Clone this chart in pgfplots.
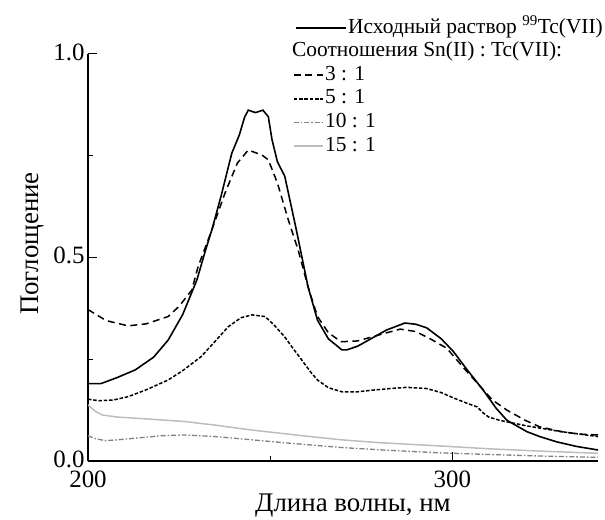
\documentclass[border=0pt]{standalone}
\usepackage{fontspec}
\setmainfont{Liberation Serif}
\usepackage{pgfplots}
\pgfplotsset{compat=1.18}
\definecolor{dd}{HTML}{808080}
\definecolor{lg}{HTML}{BDBDBD}
\pgfplotsset{
  shortimg/.style={legend image code/.code={\draw[##1] (0bp,0bp) -- (29bp,0bp);}},
  longimg/.style={legend image code/.code={\draw[##1] (2bp,0bp) -- (29bp,0bp); \draw[##1,overlay] (29bp,0bp) -- (52bp,0bp);}},
}
\begin{document}
\begin{tikzpicture}
\begin{axis}[
  at={(0,0)}, anchor=south west,
  scale only axis, width=510bp, height=407bp,
  xmin=200, xmax=340, ymin=0, ymax=1.0,
  axis x line=bottom, axis y line=left,
  axis line style={-, line width=1.2bp},
  tick align=inside,
  major tick length=9bp, minor tick length=5bp,
  tick style={line width=1bp, black},
  xtick={200,300}, minor xtick={250},
  ytick={0,0.5,1}, minor ytick={0.25,0.75},
  yticklabel style={yshift=2bp, /pgf/number format/.cd, fixed, fixed zerofill, precision=1},
  /pgf/number format/assume math mode=true,
  ticklabel style={font=\fontsize{25}{29}\selectfont},
  xticklabel style={yshift=-6bp},
  xlabel={Длина волны, нм}, ylabel={Поглощение},
  label style={font=\fontsize{27}{31}\selectfont},
  xlabel style={yshift=0bp, xshift=10bp},
  ylabel style={yshift=2bp, xshift=14bp},
  legend cell align=left,
  legend style={at={(0.396,1.095)}, anchor=north west, draw=none, fill=none,
    font=\fontsize{21.5}{25}\selectfont, row sep=2.6bp,
    nodes={inner sep=1.5bp, text height=14bp, text depth=4bp}},
]
\addlegendimage{black, line width=1.6bp, longimg}
\addlegendentry{\hspace*{23bp}Исходный раствор \textsuperscript{99}Tc(VII)}
\addlegendimage{empty legend}
\addlegendentry{\hspace*{-33bp}Соотношения Sn(II) : Tc(VII):}
\addlegendimage{black, line width=1.5bp, dash pattern=on 7bp off 4.5bp, shortimg}
\addlegendentry{3 : 1}
\addlegendimage{black, line width=1.5bp, dash pattern=on 3.5bp off 1.8bp, shortimg}
\addlegendentry{5 : 1}
\addlegendimage{dd, line width=1.3bp, dash pattern=on 5bp off 2bp on 1.5bp off 2bp, shortimg}
\addlegendentry{10 : 1}
\addlegendimage{lg, line width=1.5bp, shortimg}
\addlegendentry{15 : 1}

% 15:1
\addplot[lg, line width=1.5bp, forget plot] coordinates {
(200,0.138) (202,0.122) (204,0.113) (208,0.108) (215,0.104) (220,0.101) (226.6,0.097) (235,0.088) (245,0.076) (255,0.066) (262,0.059) (269.7,0.052) (280,0.045) (296.7,0.037) (310,0.030) (325,0.024) (340,0.019)};
% 10:1
\addplot[dd, line width=1.3bp, dash pattern=on 5bp off 2bp on 1.5bp off 2bp, forget plot] coordinates {
(200,0.062) (202,0.055) (204.7,0.050) (208,0.052) (213,0.056) (220,0.062) (226.6,0.064) (235,0.060) (245,0.052) (255,0.044) (269.7,0.033) (283,0.026) (296.7,0.020) (310,0.016) (325,0.012) (340,0.009)};
% 5:1
\addplot[black, line width=1.5bp, dash pattern=on 3.5bp off 1.8bp, forget plot] coordinates {
(200,0.152) (203,0.148) (207,0.150) (211,0.158) (216,0.175) (222,0.199) (226,0.222) (231,0.256) (235,0.295) (238.5,0.330) (242,0.352) (245,0.359) (248.6,0.355) (251,0.335) (254,0.305) (256,0.280) (258.7,0.248) (261,0.220) (263,0.199) (266,0.180) (269.7,0.170) (274,0.170) (278,0.174) (283,0.178) (287.5,0.181) (293,0.178) (297,0.168) (300.3,0.155) (304,0.142) (306.8,0.133) (308.5,0.118) (310,0.108) (313,0.100) (316.8,0.093) (320,0.087) (324,0.081) (330,0.072) (335,0.066) (340,0.060)};
% 3:1
\addplot[black, line width=1.5bp, dash pattern=on 7bp off 4.5bp, forget plot] coordinates {
(200,0.372) (205,0.345) (211,0.332) (216,0.337) (222,0.355) (225,0.380) (228.5,0.420) (230.2,0.477) (234,0.568) (237.6,0.658) (241,0.732) (244,0.764) (247.7,0.752) (249.5,0.740) (252,0.683) (255,0.592) (257.7,0.518) (260.4,0.428) (263,0.355) (266,0.315) (269.5,0.293) (274,0.295) (278,0.305) (282,0.315) (285.7,0.324) (290,0.318) (294,0.300) (298.5,0.277) (303,0.230) (307.7,0.183) (311,0.150) (315,0.125) (320,0.100) (324,0.084) (330,0.072) (335,0.066) (340,0.064)};
% original
\addplot[black, line width=1.6bp, forget plot] coordinates {
(200,0.190) (203.5,0.190) (208,0.205) (213,0.224) (218,0.255) (222,0.297) (226,0.360) (229.9,0.445) (232,0.510) (234,0.568) (236.5,0.650) (239.5,0.757) (241.5,0.800) (243,0.845) (244,0.862) (246,0.856) (248,0.862) (249.5,0.846) (250.5,0.790) (252,0.735) (254,0.700) (257,0.576) (260.4,0.428) (263,0.346) (266,0.300) (269.7,0.273) (271,0.273) (274,0.282) (278,0.302) (282,0.322) (287,0.339) (290,0.336) (293,0.327) (297,0.300) (300.3,0.269) (304,0.225) (308.5,0.174) (312,0.130) (315,0.100) (320.5,0.072) (324,0.060) (328.7,0.047) (334,0.036) (340,0.027)};
\end{axis}
\pgfresetboundingbox
\useasboundingbox (-88bp,-59bp) rectangle (517bp,461bp);
\end{tikzpicture}
\end{document}
